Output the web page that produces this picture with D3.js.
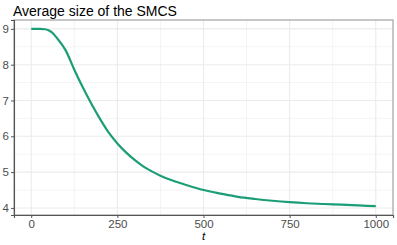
<!DOCTYPE html>
<html>
<head>
<meta charset="utf-8">
<script src="https://cdn.jsdelivr.net/npm/d3@7"></script>
<style>
  body { margin: 0; background: #fff; }
  svg { display: block; font-family: "Liberation Sans", Arial, sans-serif; }
</style>
</head>
<body>
<svg id="chart" width="397" height="245"></svg>
<script>
// values
var tVals = [0, 25, 40, 50, 60, 75, 100, 125, 150, 175, 200, 225, 250, 275, 300, 325, 350, 375, 400, 450, 500, 550, 600, 650, 700, 750, 800, 850, 900, 950, 1000];
var sizeVals = [9.00, 9.00, 8.99, 8.96, 8.90, 8.74, 8.40, 7.86, 7.36, 6.90, 6.48, 6.10, 5.80, 5.55, 5.34, 5.16, 5.02, 4.90, 4.80, 4.64, 4.50, 4.40, 4.31, 4.25, 4.20, 4.16, 4.13, 4.11, 4.09, 4.07, 4.05];
var xTicks = [0, 250, 500, 750, 1000];
var yTicks = [4, 5, 6, 7, 8, 9];
var xMinor = [125, 375, 625, 875];
var yMinor = [4.5, 5.5, 6.5, 7.5, 8.5];

var svg = d3.select('#chart');
var margin = { top: 20, right: 4, bottom: 30, left: 14 };
var width = 397 - margin.left - margin.right;
var height = 245 - margin.top - margin.bottom;

// ggplot-style 5% expansion
var x = d3.scaleLinear().domain([-50, 1050]).range([0, width]);
var y = d3.scaleLinear().domain([3.8025, 9.2475]).range([height, 0]);

var g = svg.append('g').attr('transform', 'translate(' + margin.left + ',' + margin.top + ')');

// minor grid
g.selectAll('.xminor').data(xMinor).enter().append('line')
    .attr('x1', function (d) { return x(d); }).attr('x2', function (d) { return x(d); })
    .attr('y1', 0).attr('y2', height)
    .style('stroke', '#f4f4f4').style('stroke-width', 1);
g.selectAll('.yminor').data(yMinor).enter().append('line')
    .attr('x1', 0).attr('x2', width)
    .attr('y1', function (d) { return y(d); }).attr('y2', function (d) { return y(d); })
    .style('stroke', '#f4f4f4').style('stroke-width', 1);

// major grid
g.selectAll('.xmajor').data(xTicks).enter().append('line')
    .attr('x1', function (d) { return x(d); }).attr('x2', function (d) { return x(d); })
    .attr('y1', 0).attr('y2', height)
    .style('stroke', '#ebebeb').style('stroke-width', 1.1);
g.selectAll('.ymajor').data(yTicks).enter().append('line')
    .attr('x1', 0).attr('x2', width)
    .attr('y1', function (d) { return y(d); }).attr('y2', function (d) { return y(d); })
    .style('stroke', '#ebebeb').style('stroke-width', 1.1);

// the series
var line = d3.line()
    .x(function (d, i) { return x(tVals[i]); })
    .y(function (d) { return y(d); })
    .curve(d3.curveMonotoneX);
g.append('path')
    .datum(sizeVals)
    .attr('d', line)
    .style('fill', 'none')
    .style('stroke', '#1b9e77')
    .style('stroke-width', 2.2);

// panel border
g.append('rect')
    .attr('x', 0).attr('y', 0).attr('width', width).attr('height', height)
    .style('fill', 'none').style('stroke', '#999').style('stroke-width', 1.1);

// axes
var xAxis = g.append('g').attr('transform', 'translate(0,' + height + ')')
    .call(d3.axisBottom(x).tickValues(xTicks).tickSize(3).tickPadding(2).tickFormat(d3.format('d')));
var yAxis = g.append('g')
    .call(d3.axisLeft(y).tickValues(yTicks).tickSize(3).tickPadding(2).tickFormat(d3.format('d')));
[xAxis, yAxis].forEach(function (a) {
    a.select('.domain').style('stroke', '#555').style('stroke-width', 1.1);
    a.selectAll('.tick line').style('stroke', '#555');
    a.selectAll('.tick text').style('fill', '#4d4d4d').style('font-size', '11.5px')
        .style('font-family', '"Liberation Sans", Arial, sans-serif');
});

// title and axis label
svg.append('text')
    .attr('x', 13).attr('y', 16)
    .style('font-size', '14px').style('fill', '#000')
    .text('Average size of the SMCS');
svg.append('text')
    .attr('x', margin.left + width / 2).attr('y', 240)
    .attr('text-anchor', 'middle')
    .style('font-size', '11.5px').style('font-style', 'italic').style('fill', '#000')
    .text('t');
</script>
</body>
</html>
